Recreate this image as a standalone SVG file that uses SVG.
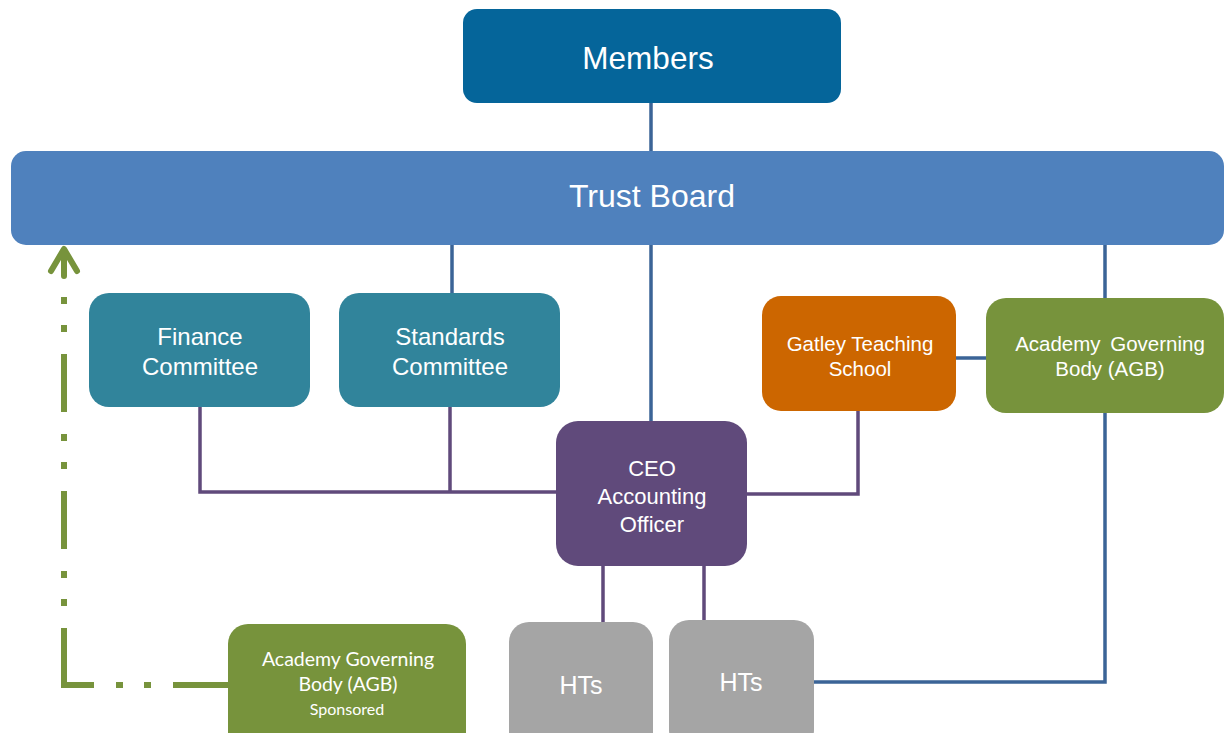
<svg xmlns="http://www.w3.org/2000/svg" width="1226" height="733" viewBox="0 0 1226 733">
<style>
text{font-family:"Liberation Sans",Arial,sans-serif;fill:#fff;text-anchor:middle}
.cal{font-family:Lato,"Liberation Sans",sans-serif}
.bl{stroke:#3B6497;stroke-width:3.5;fill:none}
.pu{stroke:#604A7B;stroke-width:3.5;fill:none}
.gr{stroke:#77933C;stroke-width:6;fill:none}
</style>
<rect width="1226" height="733" fill="#fff"/>
<g id="connectors">
<path class="bl" d="M651,103V151M452,245V293M651,245V422M1105,245V298M956,358H986M1105,413V682H814"/>
<path class="pu" d="M200,407V492H556M450,407V492M747,494H858V411M603,566V622M704,566V620"/>
<path class="gr" d="M64,686V276" stroke-dasharray="58 22 7 21 7 22"/>
<path class="gr" d="M229,685H61" stroke-dasharray="56 22 7 21 7 22"/>
<path class="gr" d="M64,276V250M51,271L64,249L77,271" stroke-linecap="round" stroke-linejoin="round"/>
</g>
<g id="members"><rect x="463" y="9" width="378" height="94" rx="14" fill="#05659A"/><text x="648" y="69" font-size="31.5">Members</text></g>
<g id="trust-board"><rect x="11" y="151" width="1213" height="94" rx="15" fill="#4F81BD"/><text x="652" y="207" font-size="32">Trust Board</text></g>
<g id="finance"><rect x="89" y="293" width="221" height="114" rx="20" fill="#31849B"/><text x="200" y="345" font-size="24">Finance</text><text x="200" y="375" font-size="24">Committee</text></g>
<g id="standards"><rect x="339" y="293" width="221" height="114" rx="20" fill="#31849B"/><text x="450" y="345" font-size="24">Standards</text><text x="450" y="375" font-size="24">Committee</text></g>
<g id="gatley"><rect x="762" y="296" width="194" height="115" rx="19" fill="#CC6600"/><text x="860" y="351" font-size="20.5">Gatley Teaching</text><text x="860" y="376" font-size="20.5">School</text></g>
<g id="agb"><rect x="986" y="298" width="238" height="115" rx="20" fill="#77933C"/><text x="1110" y="351" font-size="20.5" word-spacing="4">Academy Governing</text><text x="1110" y="376" font-size="20.5">Body (AGB)</text></g>
<g id="ceo"><rect x="556" y="421" width="191" height="145" rx="22" fill="#604A7B"/><text x="652" y="476" font-size="22">CEO</text><text x="652" y="504" font-size="22">Accounting</text><text x="652" y="532" font-size="22">Officer</text></g>
<g id="hts1"><rect x="509" y="622" width="144" height="130" rx="20" fill="#A5A5A5"/><text x="581" y="694" font-size="25">HTs</text></g>
<g id="hts2"><rect x="669" y="620" width="145" height="130" rx="20" fill="#A5A5A5"/><text x="741" y="691" font-size="25">HTs</text></g>
<g id="agb-sponsored"><rect x="228" y="624" width="238" height="130" rx="20" fill="#77933C"/><text class="cal" x="348" y="666" font-size="19.5">Academy Governing</text><text class="cal" x="348" y="691" font-size="19.5">Body (AGB)</text><text class="cal" x="347" y="715" font-size="16">Sponsored</text></g>
</svg>
